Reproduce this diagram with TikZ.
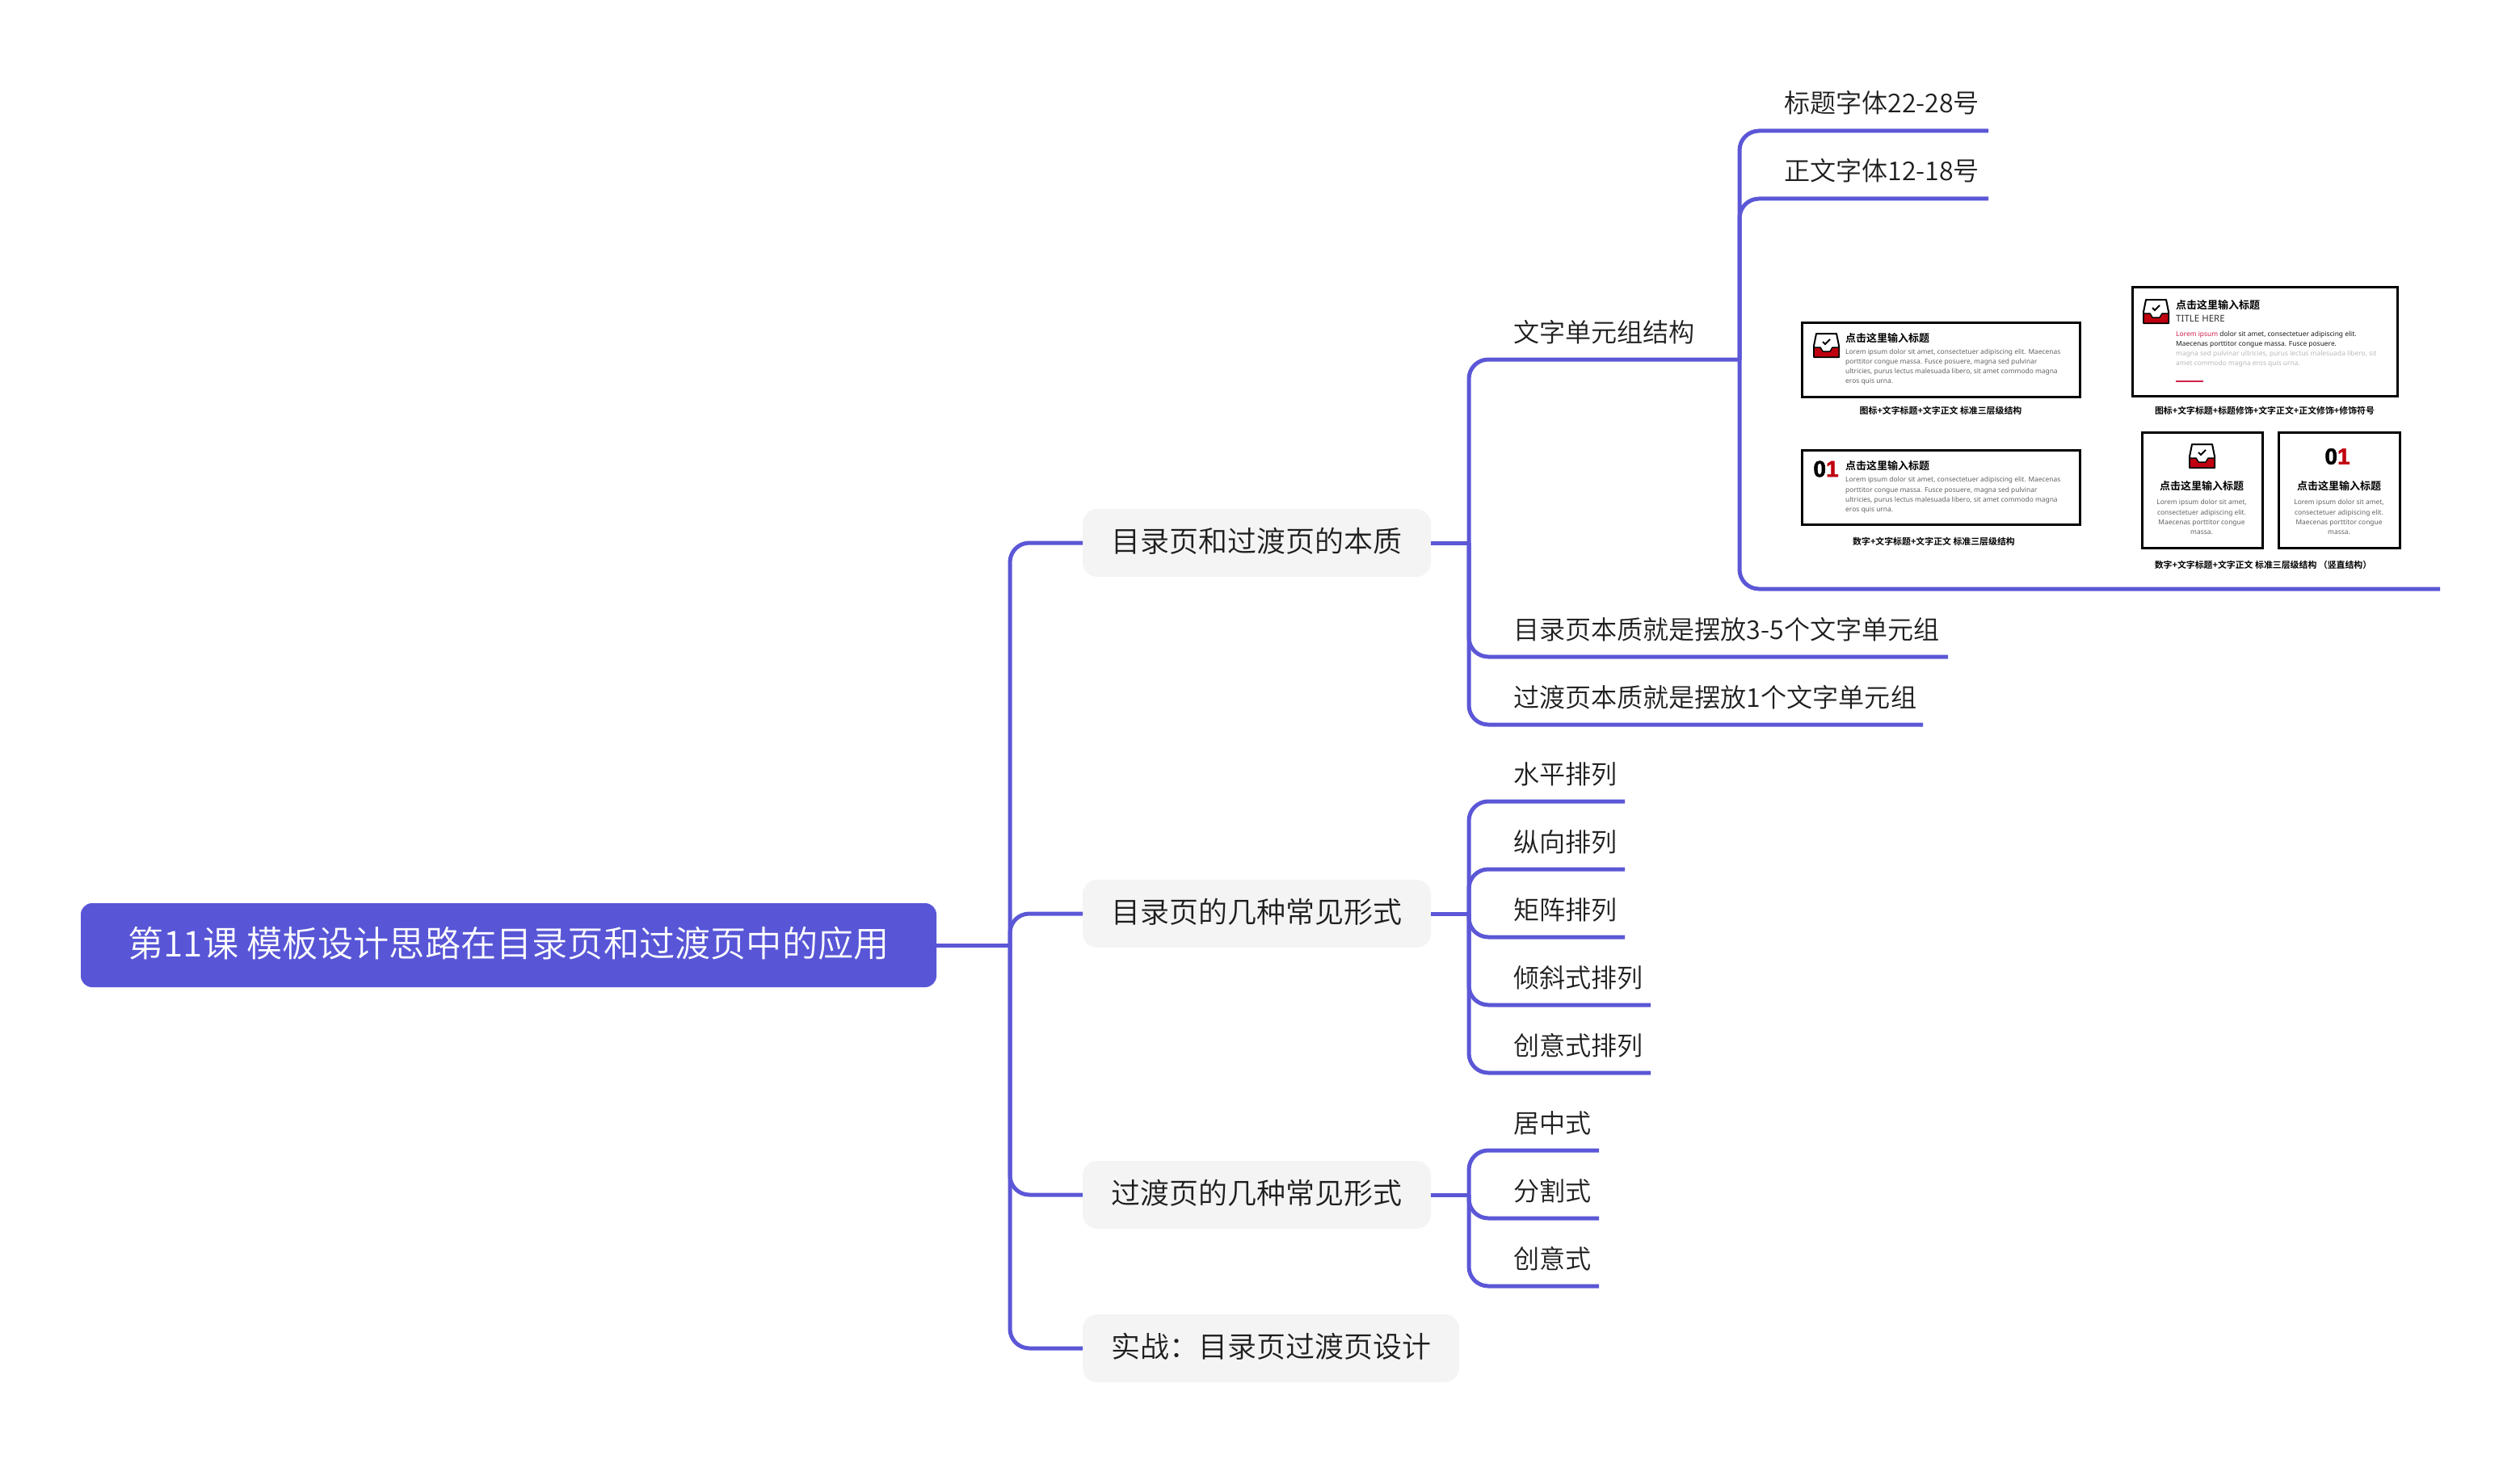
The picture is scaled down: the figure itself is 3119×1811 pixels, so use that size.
\documentclass[tikz,border=0pt]{standalone}
\usepackage{fontspec}
\setmainfont{Noto Sans CJK SC}[UprightFont=* DemiLight,BoldFont=* Bold]
\newfontfamily\latinfont{Noto Sans}
\newfontfamily\numfont{Liberation Sans}[UprightFont=* Bold,FakeBold=2]
\definecolor{lk}{HTML}{5B57D6}
\definecolor{rootc}{HTML}{5856D6}
\definecolor{nodec}{HTML}{F4F4F4}
\definecolor{ink}{HTML}{1E1E1E}
\definecolor{trayred}{HTML}{C00010}
\definecolor{accent}{HTML}{D0204A}
\tikzset{
  link/.style={draw=lk,line width=5pt,rounded corners=24pt},
  rootbox/.style={fill=rootc,rounded corners=14pt,text=white,minimum width=1059pt,minimum height=104pt,inner sep=0pt,outer sep=0pt,font=\fontsize{44.2}{44}\selectfont,text height=34pt,text depth=6pt},
  topic/.style={fill=nodec,rounded corners=18pt,text=ink,minimum height=84pt,inner sep=0pt,outer sep=0pt,font=\fontsize{36}{36}\selectfont,text height=26pt,text depth=4pt},
  leaf/.style={text width=#1,anchor=south west,minimum height=66pt,inner sep=0pt,outer sep=0pt,align=left,text=ink,font=\fontsize{32.1}{32}\selectfont,text height=26pt,text depth=4pt},
  framebox/.style={draw=black,line width=3pt,inner sep=0pt,outer sep=0pt},
  ptitle/.style={inner sep=0pt,font=\fontsize{13}{13}\selectfont\bfseries,text=black},
  pcap/.style={inner sep=0pt,font=\fontsize{10.9}{11}\selectfont\bfseries,text=black},
  lorem/.style={inner sep=0pt,font=\latinfont\fontsize{8.4}{12.2}\selectfont,text=black!62},
  bignum/.style={inner sep=0pt,font=\numfont\fontsize{28}{28}\selectfont,text=black},
  inbox/.pic={
    \fill[white,draw=black,line width=2pt,line join=round] (3,0)--(28,0)--(31,15)--(31,29)--(0,29)--(0,15)--cycle;
    \fill[trayred,draw=black,line width=1.5pt,line join=round] (0,17)--(8,17)--(11,22)--(20,22)--(23,17)--(31,17)--(31,29)--(0,29)--cycle;
    \draw[black,line width=2pt] (11,10)--(14,13)--(20,7);
  }
}
\begin{document}
\begin{tikzpicture}[x=1pt,y=-1pt]
\useasboundingbox (0,0) rectangle (3119,1811);
% main nodes
\node[rootbox] (root) at (629.5,1170) {第11课 模板设计思路在目录页和过渡页中的应用};
\node[topic,minimum width=431pt] (n1) at (1555.5,672) {目录页和过渡页的本质};
\node[topic,minimum width=431pt] (n2) at (1555.5,1131) {目录页的几种常见形式};
\node[topic,minimum width=431pt] (n3) at (1555.5,1479) {过渡页的几种常见形式};
\node[topic,minimum width=466pt] (n4) at (1573,1669) {实战：目录页过渡页设计};
\coordinate (t0) at (1250,1170);
\coordinate (t1) at (1818,672);
\coordinate (t2) at (1818,1131);
\coordinate (t3) at (1818,1479);
% leaves
\node[leaf=280pt] (l1) at (1873,445) {文字单元组结构};
\node[leaf=253pt] (a1) at (2208,162) {标题字体22-28号};
\node[leaf=253pt] (a2) at (2208,246) {正文字体12-18号};
\coordinate (picL) at (2208,729);
\coordinate (picR) at (3020,729);
\node[leaf=538pt] (l2) at (1873,813) {目录页本质就是摆放3-5个文字单元组};
\node[leaf=507pt] (l3) at (1873,897) {过渡页本质就是摆放1个文字单元组};
\node[leaf=138pt] (b1) at (1873,992) {水平排列};
\node[leaf=138pt] (b2) at (1873,1076) {纵向排列};
\node[leaf=138pt] (b3) at (1873,1160) {矩阵排列};
\node[leaf=170pt] (b4) at (1873,1244) {倾斜式排列};
\node[leaf=170pt] (b5) at (1873,1328) {创意式排列};
\node[leaf=106pt] (c1) at (1873,1424) {居中式};
\node[leaf=106pt] (c2) at (1873,1508) {分割式};
\node[leaf=106pt] (c3) at (1873,1592) {创意式};
% connectors
\draw[link] (root.east) -- (t0);
\draw[link] (t0) |- (n1.west);
\draw[link] (t0) |- (n2.west);
\draw[link] (t0) |- (n3.west);
\draw[link] (t0) |- (n4.west);
\draw[link] (n1.east) -- (t1);
\draw[link] (n2.east) -- (t2);
\draw[link] (n3.east) -- (t3);
\draw[link] (t1) |- (l1.south west) -- (l1.south east);
\draw[link] (t1) |- (l2.south west) -- (l2.south east);
\draw[link] (t1) |- (l3.south west) -- (l3.south east);
\draw[link] (l1.south east) |- (a1.south west) -- (a1.south east);
\draw[link] (l1.south east) |- (a2.south west) -- (a2.south east);
\draw[link] (l1.south east) |- (picL) -- (picR);
\foreach \b in {b1,b2,b3,b4,b5}{\draw[link] (t2) |- (\b.south west) -- (\b.south east);}
\foreach \c in {c1,c2,c3}{\draw[link] (t3) |- (\c.south west) -- (\c.south east);}
% embedded illustration: top left
\node[framebox,minimum width=344pt,minimum height=92pt] (f1) at (2402,445) {};
\pic at (2245,413) {inbox};
\node[ptitle,anchor=west] (f1t) at (2284,419) {点击这里输入标题};
\node[lorem,anchor=west,align=left] (f1l) at (2284,454.5) {Lorem ipsum dolor sit amet, consectetuer adipiscing elit. Maecenas\\porttitor congue massa. Fusce posuere, magna sed pulvinar\\ultricies, purus lectus malesuada libero, sit amet commodo magna\\eros quis urna.};
\node[pcap] (f1c) at (2402,508) {图标+文字标题+文字正文 标准三层级结构};
% top right
\node[framebox,minimum width=328pt,minimum height=135pt] (f2) at (2803,422.5) {};
\pic at (2653,371) {inbox};
\node[ptitle,anchor=west] (f2t) at (2693,378) {点击这里输入标题};
\node[inner sep=0pt,anchor=west,text=black!80,font=\latinfont\fontsize{11.5}{12}\selectfont] (f2s) at (2693,394) {TITLE HERE};
\node[lorem,anchor=west,align=left] (f2l) at (2693,432.5) {\textcolor{accent}{Lorem ipsum} \textcolor{black!90}{dolor sit amet, consectetuer adipiscing elit.}\\\textcolor{black!90}{Maecenas porttitor congue massa. Fusce posuere.}\\\textcolor{black!28}{magna sed pulvinar ultricies, purus lectus malesuada libero, sit}\\\textcolor{black!28}{amet commodo magna eros quis urna.}};
\fill[accent] (2693,470.7) rectangle (2727,473.3);
\node[pcap] (f2c) at (2803,508) {图标+文字标题+标题修饰+文字正文+正文修饰+修饰符号};
% lower left
\node[framebox,minimum width=344pt,minimum height=92pt] (f3) at (2402,603) {};
\node[bignum,anchor=center] (f3n) at (2260,580.5) {0\textcolor{trayred}{1}};
\node[ptitle,anchor=west] (f3t) at (2284,577) {点击这里输入标题};
\node[lorem,anchor=west,align=left] (f3l) at (2284,613) {Lorem ipsum dolor sit amet, consectetuer adipiscing elit. Maecenas\\porttitor congue massa. Fusce posuere, magna sed pulvinar\\ultricies, purus lectus malesuada libero, sit amet commodo magna\\eros quis urna.};
\node[pcap] (f3c) at (2393.5,670) {数字+文字标题+文字正文 标准三层级结构};
% lower right pair
\node[framebox,minimum width=149pt,minimum height=143pt] (f4) at (2725.5,606.5) {};
\pic at (2710,550) {inbox};
\node[ptitle] (f4t) at (2725,602) {点击这里输入标题};
\node[lorem,align=center] (f4l) at (2725,640) {Lorem ipsum dolor sit amet,\\consectetuer adipiscing elit.\\Maecenas porttitor congue\\massa.};
\node[framebox,minimum width=150pt,minimum height=143pt] (f5) at (2895,606.5) {};
\node[bignum] (f5n) at (2893,565) {0\textcolor{trayred}{1}};
\node[ptitle] (f5t) at (2895,602) {点击这里输入标题};
\node[lorem,align=center] (f5l) at (2895,640) {Lorem ipsum dolor sit amet,\\consectetuer adipiscing elit.\\Maecenas porttitor congue\\massa.};
\node[pcap] (f4c) at (2801,699) {数字+文字标题+文字正文 标准三层级结构 （竖直结构）};
\end{tikzpicture}
\end{document}
